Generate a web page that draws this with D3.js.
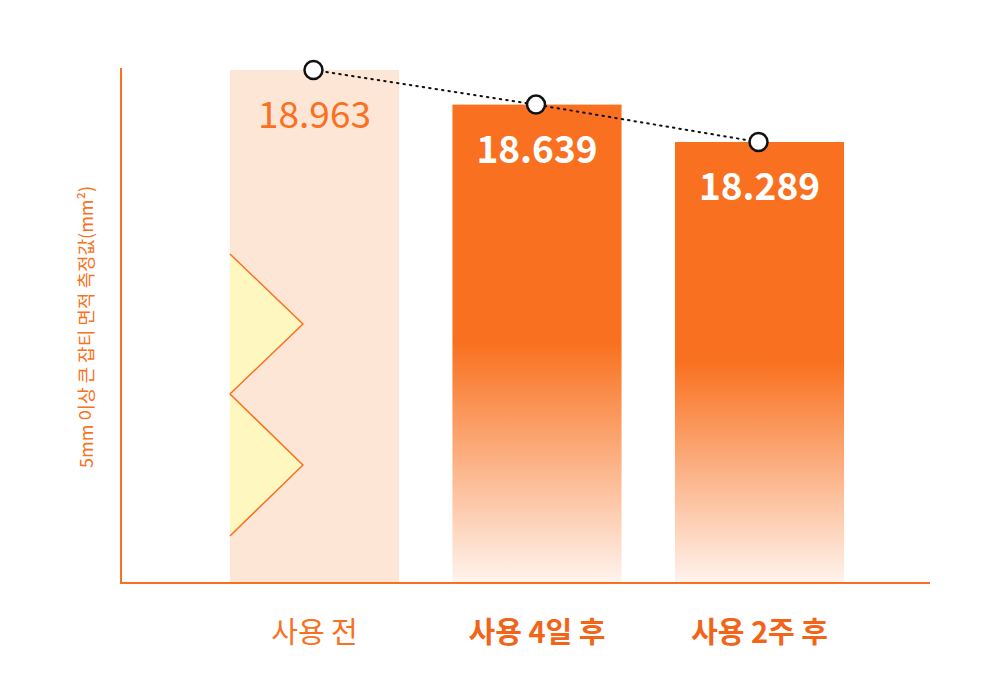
<!DOCTYPE html>
<html><head><meta charset="utf-8">
<script src="https://cdn.jsdelivr.net/npm/d3@7"></script>
<style>body{margin:0;background:#fff}</style>
</head><body>
<svg id="chart" width="1000" height="697"></svg>
<script>
const categories = ["사용 전", "사용 4일 후", "사용 2주 후"];
const values = [18.963, 18.639, 18.289];
const valueLabels = ["18.963", "18.639", "18.289"];
const yTitle = "5mm 이상 큰 잡티 면적 측정값(mm²)";

const orange = "#f97120";
const font = "'Noto Sans CJK KR', 'Noto Sans', sans-serif";
const svg = d3.select("#chart");

const x = d3.scaleBand().domain(categories).range([201, 873]).paddingInner(0.24).paddingOuter(0.13);
const y = d3.scaleLinear().domain([14.16, 18.963]).range([583, 70]);

const defs = svg.append("defs");
const g = defs.append("linearGradient").attr("id", "fade").attr("x1", 0).attr("y1", 0).attr("x2", 0).attr("y2", 1);
g.append("stop").attr("offset", "0").attr("stop-color", orange);
g.append("stop").attr("offset", "0.5").attr("stop-color", orange);
g.append("stop").attr("offset", "1").attr("stop-color", orange).attr("stop-opacity", 0.08);

svg.selectAll("rect.bar").data(values).join("rect")
  .attr("x", (d, i) => x(categories[i]))
  .attr("y", d => y(d))
  .attr("width", x.bandwidth())
  .attr("height", d => y.range()[0] - y(d))
  .attr("fill", (d, i) => i === 0 ? "#fee6d6" : "url(#fade)");

// broken-axis triangles on first bar
const bx = x(categories[0]);
[[254, 394], [394, 536]].forEach(([t, b]) => {
  svg.append("path")
    .attr("d", `M${bx},${t}L${bx + 73},${(t + b) / 2}L${bx},${b}`)
    .attr("fill", "#fff7c0").attr("stroke", orange).attr("stroke-width", 1.5);
});

// axes
svg.append("line").attr("x1", 121).attr("x2", 121).attr("y1", 68).attr("y2", 583).attr("stroke", orange).attr("stroke-width", 2);
svg.append("line").attr("x1", 120).attr("x2", 930).attr("y1", 583).attr("y2", 583).attr("stroke", orange).attr("stroke-width", 2);

// value labels
svg.selectAll("text.val").data(values).join("text")
  .attr("x", (d, i) => x(categories[i]) + x.bandwidth() / 2)
  .attr("y", d => y(d) + 58)
  .attr("text-anchor", "middle")
  .attr("font-family", font).attr("font-size", 37)
  .attr("font-weight", (d, i) => i === 0 ? 400 : 700)
  .attr("fill", (d, i) => i === 0 ? orange : "#fff")
  .text((d, i) => valueLabels[i]);

// dotted trend line + markers
const pts = values.map((d, i) => [x(categories[i]) + x.bandwidth() / 2 - 1, y(d)]);
svg.append("path").attr("d", d3.line()(pts)).attr("fill", "none")
  .attr("stroke", "#111").attr("stroke-width", 2).attr("stroke-dasharray", "1.5 5").attr("stroke-linecap", "round");
svg.selectAll("circle").data(pts).join("circle")
  .attr("cx", d => d[0]).attr("cy", d => d[1]).attr("r", 9)
  .attr("fill", "#fff").attr("stroke", "#111").attr("stroke-width", 2.5);

// category labels
svg.selectAll("text.cat").data(categories).join("text")
  .attr("x", d => x(d) + x.bandwidth() / 2)
  .attr("y", 643)
  .attr("text-anchor", "middle")
  .attr("font-family", font).attr("font-size", 29)
  .attr("font-weight", (d, i) => i === 0 ? 400 : 700)
  .attr("fill", (d, i) => i === 0 ? orange : "#f26418")
  .text(d => d);

svg.append("text")
  .attr("transform", "translate(93,327) rotate(-90)")
  .attr("text-anchor", "middle")
  .attr("font-family", font).attr("font-size", 18).attr("fill", orange)
  .text(yTitle);
</script>
</body></html>
